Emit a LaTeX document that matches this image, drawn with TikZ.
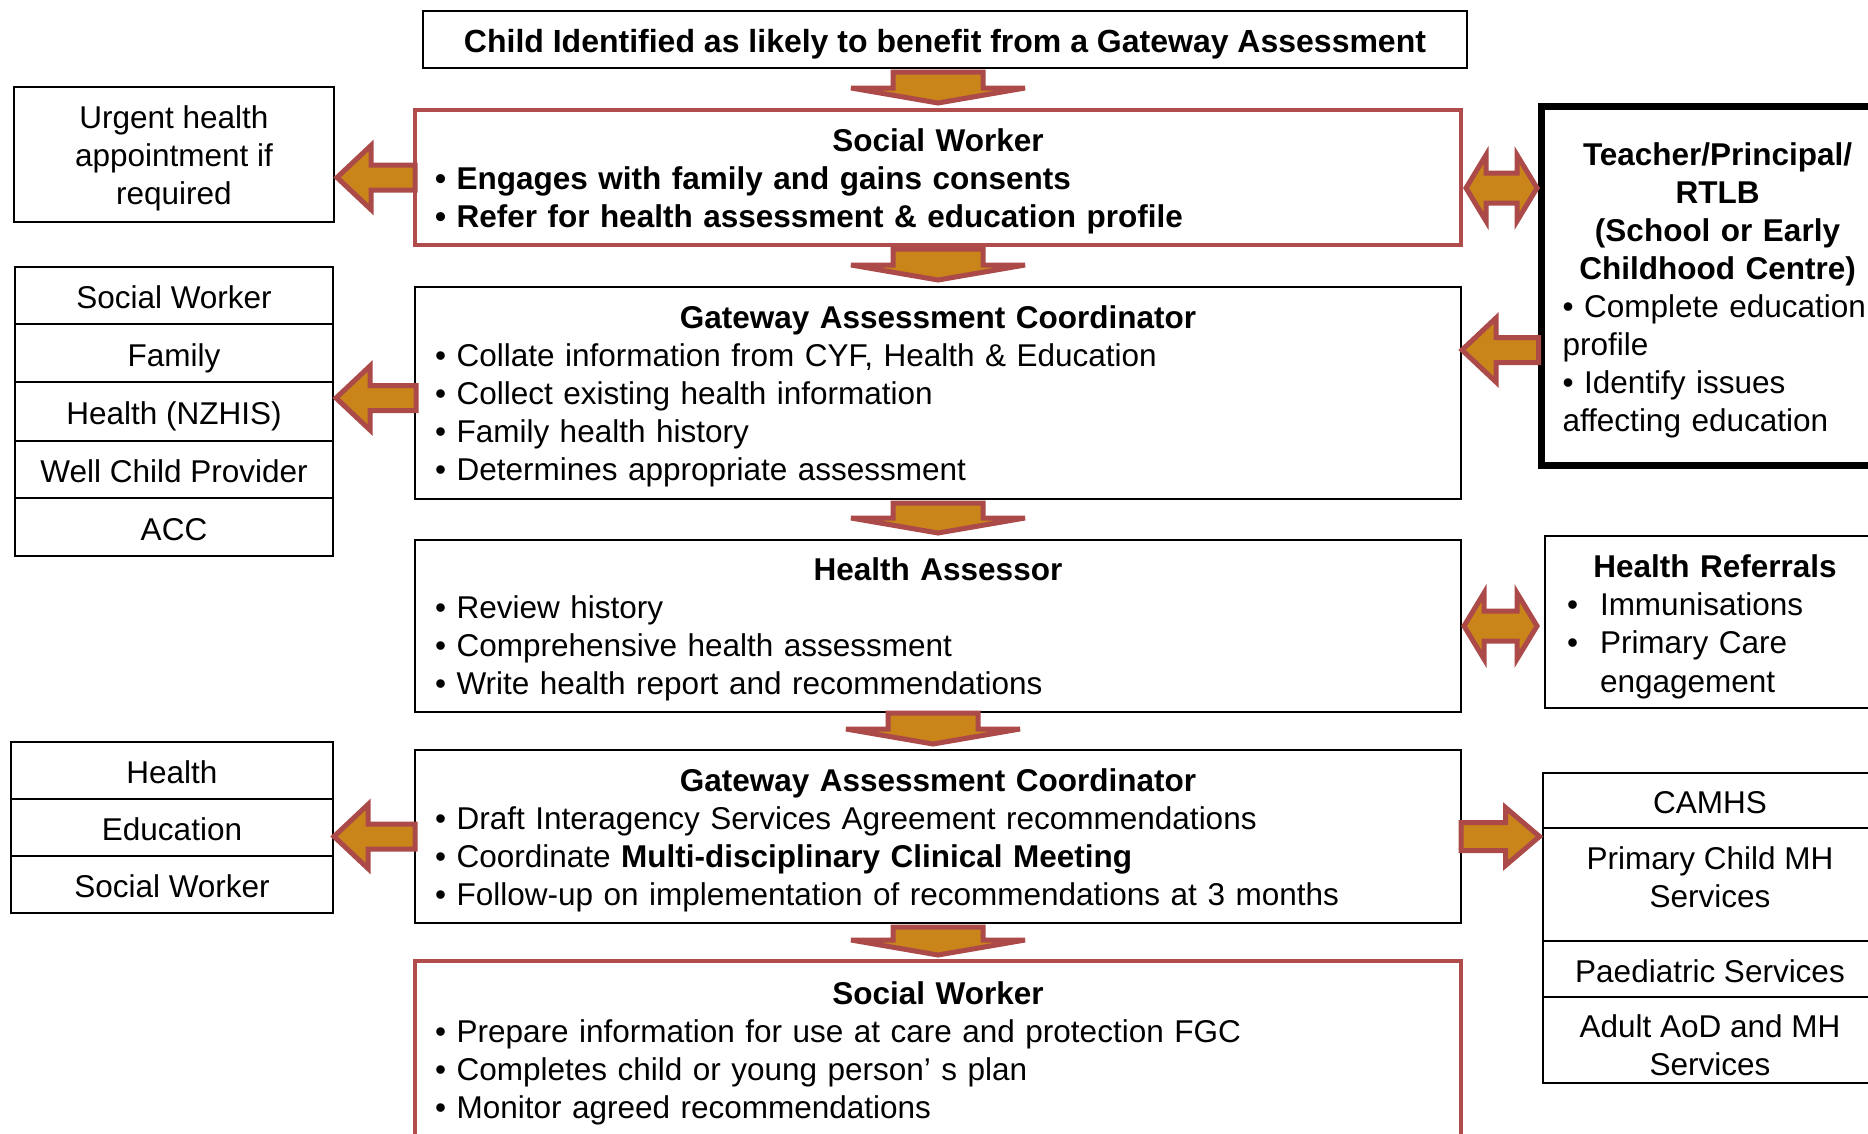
\documentclass[tikz,border=0pt]{standalone}
\usepackage{fontspec}
\setmainfont{Liberation Sans}
\usetikzlibrary{calc}
\definecolor{arrfill}{RGB}{201,132,26}
\definecolor{arrline}{RGB}{172,74,74}
\definecolor{boxred}{RGB}{176,76,76}
\newcommand\bodyfont{\fontsize{31.5}{38}\selectfont}
\newcommand\topstrut{\rule{0pt}{34pt}}
\newcommand\ltopstrut{\rule{0pt}{31pt}}
\newcommand\botstrut{\rule[-8pt]{0pt}{8pt}}
\newcommand\twoline[2]{\begin{tabular}{@{}c@{}}#1\\#2\end{tabular}}
% tail, tip, bar half width, head half width, head length
\newcommand\blockarrow[5]{%
  \coordinate (bah) at ($(#2)!#5!(#1)$);
  \draw[barrow] ($(#1)!#3!90:(#2)$) -- ($(bah)!#3!-90:(#1)$) -- ($(bah)!#4!-90:(#1)$)
    -- (#2) -- ($(bah)!#4!90:(#1)$) -- ($(bah)!#3!90:(#1)$) -- ($(#1)!#3!-90:(#2)$) -- cycle;}
\newcommand\dblarrow[5]{%
  \coordinate (daa) at ($(#1)!#5!(#2)$);
  \coordinate (dab) at ($(#2)!#5!(#1)$);
  \draw[barrow] (#1) -- ($(daa)!#4!90:(#2)$) -- ($(daa)!#3!90:(#2)$) -- ($(dab)!#3!-90:(#1)$)
    -- ($(dab)!#4!-90:(#1)$) -- (#2) -- ($(dab)!#4!90:(#1)$) -- ($(dab)!#3!90:(#1)$)
    -- ($(daa)!#3!-90:(#2)$) -- ($(daa)!#4!-90:(#2)$) -- cycle;}
\begin{document}
\begin{tikzpicture}[x=1pt,y=-1pt,
  box/.style={draw=black,line width=2pt,inner sep=0pt,outer sep=0pt,anchor=north west,
    font=\bodyfont,align=center,fill=white},
  redbox/.style={box,draw=boxred,line width=4pt},
  listbox/.style={text width=1006pt,inner xsep=20pt,align=left,minimum width=1046pt},
  barrow/.style={draw=arrline,fill=arrfill,line width=5pt,line join=miter}]
\useasboundingbox (0,0) rectangle (1868,1133);
\fill[white] (0,0) rectangle (1868,1133);

% central column
\node[box,minimum width=1044pt,minimum height=57pt,font=\fontsize{32}{38}\selectfont\bfseries] (top) at (423,11)
  {\topstrut Child Identified as likely to benefit from a Gateway Assessment\botstrut};
\node[redbox,listbox,minimum height=135pt,font=\bodyfont\bfseries] (sw1) at (415,110)
  {\ltopstrut\makebox[1006pt]{Social Worker}\\
   • Engages with family and gains consents\\
   • Refer for health assessment \& education profile\botstrut};
\node[box,listbox,minimum height=212pt] (gac1) at (415,287)
  {\ltopstrut\makebox[1006pt]{\bfseries Gateway Assessment Coordinator}\\
   • Collate information from CYF, Health \& Education\\
   • Collect existing health information\\
   • Family health history\\
   • Determines appropriate assessment\botstrut};
\node[box,listbox,minimum height=172pt] (ha) at (415,540)
  {\ltopstrut\makebox[1006pt]{\bfseries Health Assessor}\\
   • Review history\\
   • Comprehensive health assessment\\
   • Write health report and recommendations\botstrut};
\node[box,listbox,minimum height=173pt] (gac2) at (415,750)
  {\ltopstrut\makebox[1006pt]{\bfseries Gateway Assessment Coordinator}\\
   • Draft Interagency Services Agreement recommendations\\
   • Coordinate \textbf{Multi-disciplinary Clinical Meeting}\\
   • Follow-up on implementation of recommendations at 3 months\botstrut};
\node[redbox,listbox,minimum height=178pt] (sw2) at (415,961)
  {\ltopstrut\makebox[1006pt]{\bfseries Social Worker}\\
   • Prepare information for use at care and protection FGC\\
   • Completes child or young person’ s plan\\
   • Monitor agreed recommendations\botstrut};

% left column
\node[box,minimum width=320pt,minimum height=135pt] (urg) at (14,87)
  {\ltopstrut Urgent health\\appointment if\\required\botstrut};
\node[box,minimum width=318pt,minimum height=57pt] (lsa) at (15,267) {\topstrut Social Worker\botstrut};
\node[box,minimum width=318pt,minimum height=58pt] (lsb) at (lsa.south west) {\topstrut Family\botstrut};
\node[box,minimum width=318pt,minimum height=59pt] (lsc) at (lsb.south west) {\topstrut Health (NZHIS)\botstrut};
\node[box,minimum width=318pt,minimum height=57pt] (lsd) at (lsc.south west) {\topstrut Well Child Provider\botstrut};
\node[box,minimum width=318pt,minimum height=58pt] (lse) at (lsd.south west) {\topstrut ACC\botstrut};
\node[box,minimum width=322pt,minimum height=57pt] (ls2a) at (11,742) {\topstrut Health\botstrut};
\node[box,minimum width=322pt,minimum height=57pt] (ls2b) at (ls2a.south west) {\topstrut Education\botstrut};
\node[box,minimum width=322pt,minimum height=57pt] (ls2c) at (ls2b.south west) {\topstrut Social Worker\botstrut};

% right column
\node[box,line width=7pt,minimum width=352pt,minimum height=358.5pt,text width=310pt,
  inner xsep=21pt,align=left] (teacher) at (1541.5,106.5)
  {\topstrut\makebox[310pt]{\bfseries Teacher/Principal/}\\
   \makebox[310pt]{\bfseries RTLB}\\
   \makebox[310pt]{\bfseries (School or Early}\\
   \makebox[310pt]{\bfseries Childhood Centre)}\\
   • Complete education\\
   profile\\
   • Identify issues\\
   affecting education\botstrut};
\node[box,minimum width=340pt,minimum height=172pt,text width=296pt,inner xsep=22pt,
  align=left] (hr) at (1545,536)
  {\topstrut\makebox[296pt]{\bfseries Health Referrals}\\
   \makebox[33pt][l]{•}Immunisations\\
   \makebox[33pt][l]{•}Primary Care\\[1pt]
   \hspace*{33pt}engagement\botstrut};
\node[box,minimum width=334pt,minimum height=55pt] (rsa) at (1543,773) {\topstrut CAMHS\botstrut};
\node[box,minimum width=334pt,minimum height=113pt] (rsb) at (rsa.south west)
  {\raisebox{7.5pt}[\height][\depth]{\twoline{\topstrut Primary Child MH}{Services\botstrut}}};
\node[box,minimum width=334pt,minimum height=56pt] (rsc) at (rsb.south west) {\topstrut Paediatric Services\botstrut};
\node[box,minimum width=334pt,minimum height=86pt] (rsd) at (rsc.south west)
  {\raisebox{-5.5pt}[\height][\depth]{\twoline{\topstrut Adult AoD and MH}{Services\botstrut}}};

% down arrows
\coordinate (a1t) at ($(sw1.north |- top.south)+(0,4)$);
\coordinate (a1h) at ($(sw1.north)+(0,-7)$);
\blockarrow{a1t}{a1h}{45pt}{87pt}{15pt}
\coordinate (a2t) at ($(sw1.south)+(0,4)$);
\coordinate (a2h) at ($(gac1.north)+(0,-7)$);
\blockarrow{a2t}{a2h}{45pt}{87pt}{15pt}
\coordinate (a3t) at ($(gac1.south)+(0,4)$);
\coordinate (a3h) at ($(ha.north)+(0,-7)$);
\blockarrow{a3t}{a3h}{45pt}{87pt}{15pt}
\coordinate (a4t) at ($(ha.south)+(-5,1)$);
\coordinate (a4h) at ($(gac2.north)+(-5,-6)$);
\blockarrow{a4t}{a4h}{45pt}{87pt}{15pt}
\coordinate (a5t) at ($(gac2.south)+(0,4)$);
\coordinate (a5h) at ($(sw2.north)+(0,-6)$);
\blockarrow{a5t}{a5h}{45pt}{87pt}{15pt}

% left arrows
\coordinate (l1t) at (sw1.west);
\coordinate (l1h) at ($(urg.east |- sw1.west)+(3,0)$);
\blockarrow{l1t}{l1h}{12.5pt}{32pt}{34pt}
\coordinate (l2t) at ($(gac1.west)+(1,5)$);
\coordinate (l2h) at ($(lsc.east |- l2t)+(3,0)$);
\blockarrow{l2t}{l2h}{12.5pt}{32pt}{34pt}
\coordinate (l3t) at (gac2.west);
\coordinate (l3h) at ($(ls2b.east |- l3t)+(1,0)$);
\blockarrow{l3t}{l3h}{12.5pt}{32pt}{34pt}
\coordinate (tlh) at ($(gac1.east)+(1,-43)$);
\coordinate (tlt) at ($(teacher.west |- tlh)+(-3,0)$);
\blockarrow{tlt}{tlh}{12.5pt}{32pt}{34pt}

% right arrow
\coordinate (r1t) at (gac2.east);
\coordinate (r1h) at ($(rsb.west |- r1t)+(-3.5,0)$);
\blockarrow{r1t}{r1h}{14pt}{29pt}{34pt}

% double arrows
\coordinate (d1a) at ($(sw1.east)+(5,10.5)$);
\coordinate (d1b) at ($(teacher.west |- d1a)+(-4.5,0)$);
\dblarrow{d1a}{d1b}{15pt}{33pt}{20pt}
\coordinate (d2a) at ($(ha.east)+(3,0)$);
\coordinate (d2b) at ($(hr.west |- d2a)+(-8,0)$);
\dblarrow{d2a}{d2b}{15pt}{33pt}{20pt}
\end{tikzpicture}
\end{document}
